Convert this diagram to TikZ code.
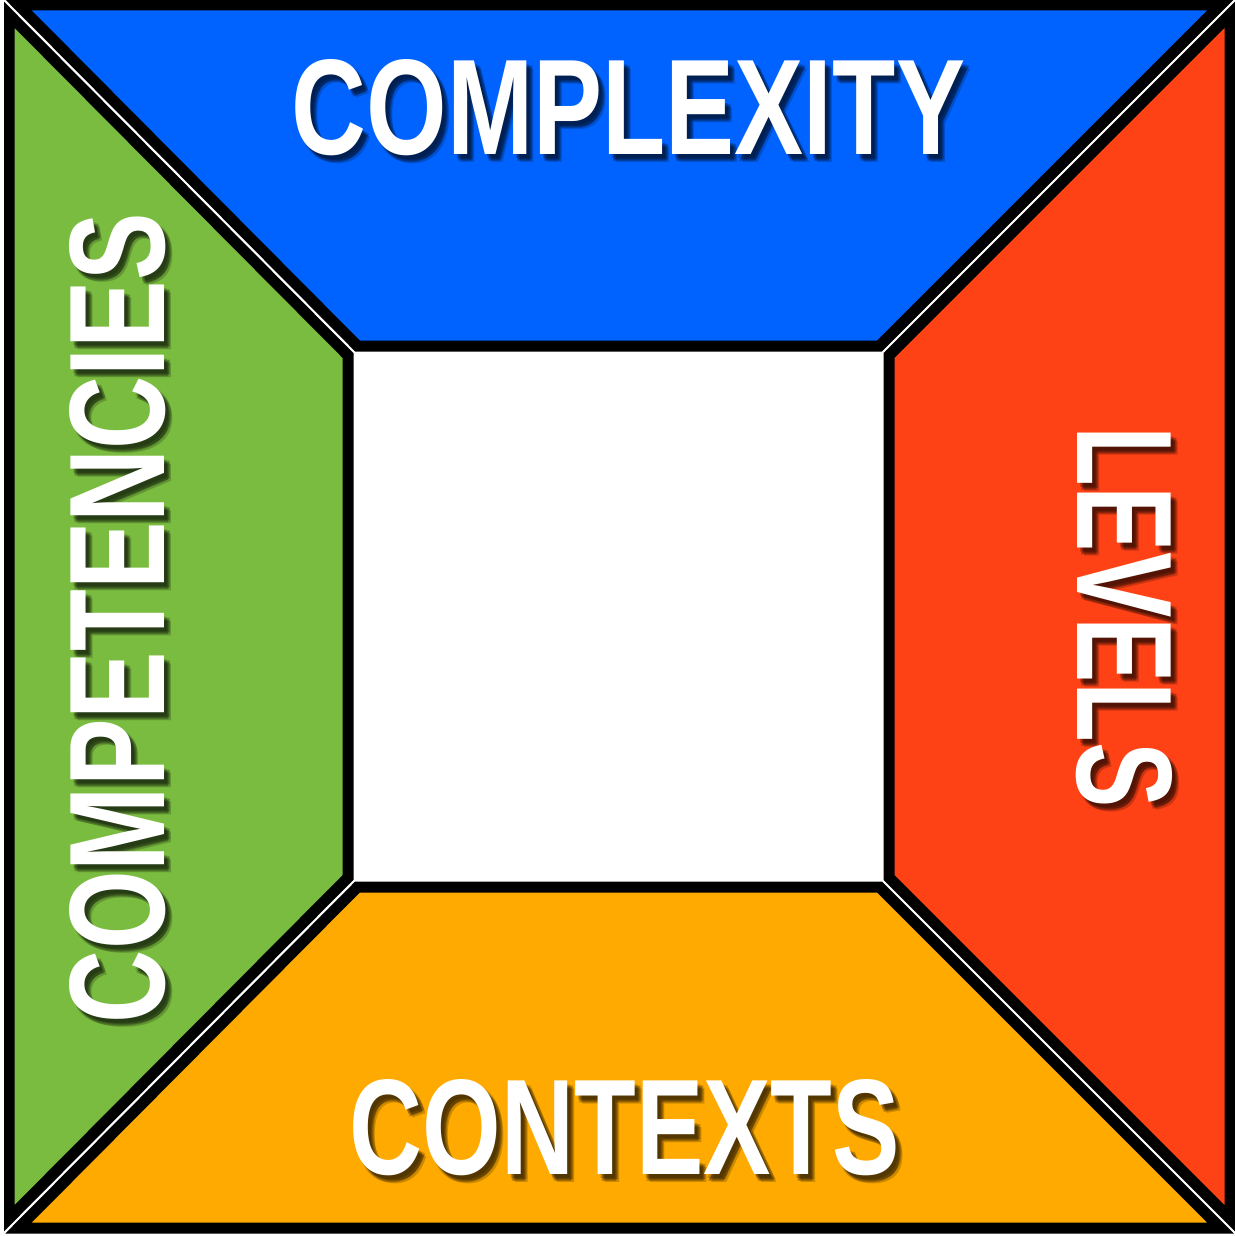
\documentclass[tikz,border=0pt]{standalone}
\usepackage{fontspec}
\setmainfont{Liberation Sans}
\usepackage{graphicx}
\definecolor{cblue}{RGB}{0,99,255}
\definecolor{cred}{RGB}{255,66,21}
\definecolor{corange}{RGB}{255,170,0}
\definecolor{cgreen}{RGB}{122,188,64}
\newcommand\boxtext[3]{\resizebox{#1}{#2}{\bfseries #3}}
\begin{document}
\begin{tikzpicture}[x=0.5pt,y=-0.5pt,
  piece/.style={draw=black,line width=5.5pt,line join=miter},
  lbl/.style={inner sep=0pt,outer sep=0pt,text=white},
  shd/.style={inner sep=0pt,outer sep=0pt,text=black,opacity=0.2}]
\useasboundingbox (0,0) rectangle (1235,1236);
\fill[white] (0,0) rectangle (1235,1236);
\begin{scope}
\clip (4,0) rectangle (1235,1233);
\filldraw[piece,fill=cblue]   (18.5,5) -- (1220.5,5) -- (879.5,346) -- (357.5,346) -- cycle;
\filldraw[piece,fill=cred]    (1230,14.5) -- (1230,1218.5) -- (889,877.5) -- (889,355.5) -- cycle;
\filldraw[piece,fill=corange] (18.5,1228) -- (1220.5,1228) -- (879.5,887) -- (357.5,887) -- cycle;
\filldraw[piece,fill=cgreen]  (9,14.5) -- (348,355.5) -- (348,877.5) -- (9,1218.5) -- cycle;
\end{scope}
% shadows
\foreach \dx/\dy in {3/4,5/6,7/8,6/5,4/7}{
  \node[shd,xshift=\dx*0.5pt,yshift=-\dy*0.5pt] at (628.5,107.5) {\boxtext{336.5pt}{47.5pt}{COMPLEXITY}};
  \node[shd,xshift=\dx*0.5pt,yshift=-\dy*0.5pt] at (625,1127.5) {\boxtext{275pt}{47.5pt}{CONTEXTS}};
  \node[shd,rotate=90,xshift=-\dy*0.5pt,yshift=-\dx*0.5pt] at (117.5,618) {\boxtext{405pt}{47.5pt}{COMPETENCIES}};
  \node[shd,rotate=-90,xshift=\dy*0.5pt,yshift=\dx*0.5pt] at (1124.5,617.5) {\boxtext{190.5pt}{47.5pt}{LEVELS}};
}
% labels
\node[lbl] (complexity) at (628.5,107.5) {\boxtext{336.5pt}{47.5pt}{COMPLEXITY}};
\node[lbl] (contexts) at (625,1127.5) {\boxtext{275pt}{47.5pt}{CONTEXTS}};
\node[lbl,rotate=90] (competencies) at (117.5,618) {\boxtext{405pt}{47.5pt}{COMPETENCIES}};
\node[lbl,rotate=-90] (levels) at (1124.5,617.5) {\boxtext{190.5pt}{47.5pt}{LEVELS}};
\end{tikzpicture}
\end{document}
